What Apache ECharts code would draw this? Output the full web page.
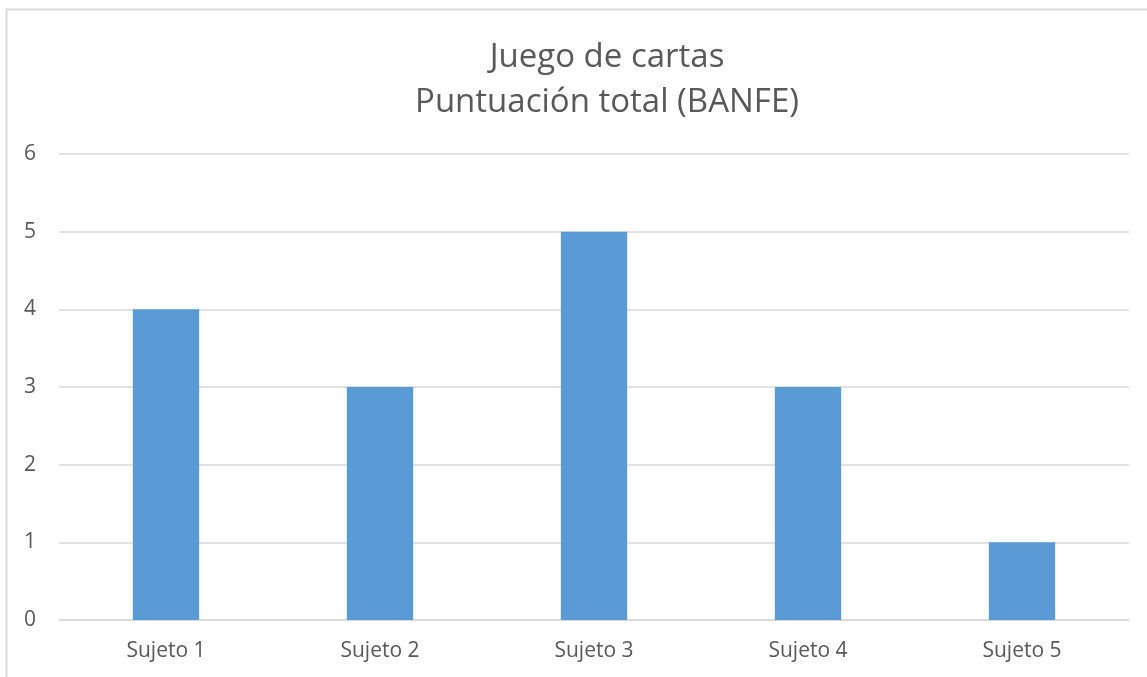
<!DOCTYPE html>
<html>
<head>
<meta charset="utf-8">
<script src="https://cdn.jsdelivr.net/npm/echarts@6/dist/echarts.min.js"></script>
<style>
  html, body { margin: 0; padding: 0; background: #fff; }
  #chart { width: 1147px; height: 677px; }
</style>
</head>
<body>
<div id="chart"></div>
<script>
// datos del grafico
const titleLines = ['Juego de cartas', 'Puntuación total (BANFE)'];
const categories = ['Sujeto 1', 'Sujeto 2', 'Sujeto 3', 'Sujeto 4', 'Sujeto 5'];
const scores = [4, 3, 5, 3, 1];
const yMin = 0, yMax = 6, yStep = 1;

const chart = echarts.init(document.getElementById('chart'));
chart.setOption({
    backgroundColor: '#ffffff',
    animation: false,
    textStyle: { fontFamily: 'Open Sans' },
    graphic: [{
        type: 'rect',
        shape: { x: 6.5, y: 9.5, width: 1200, height: 720 },
        style: { fill: 'none', stroke: '#d9d9d9', lineWidth: 2 },
        silent: true
    }],
    title: {
        text: titleLines.join('\n'),
        left: 602,
        textAlign: 'center',
        top: 30,
        textStyle: {
            color: '#595959',
            fontSize: 33,
            fontWeight: 'normal',
            lineHeight: 45,
            fontFamily: 'Open Sans'
        }
    },
    grid: { left: 59, right: 18, top: 154, bottom: 57 },
    xAxis: {
        type: 'category',
        data: categories,
        axisLine: { lineStyle: { color: '#d9d9d9', width: 1.5 } },
        axisTick: { show: false },
        axisLabel: { color: '#595959', fontSize: 21, margin: 21 }
    },
    yAxis: {
        type: 'value',
        min: yMin,
        max: yMax,
        interval: yStep,
        axisLine: { show: false },
        axisTick: { show: false },
        axisLabel: { color: '#595959', fontSize: 21, margin: 23 },
        splitLine: { lineStyle: { color: '#d9d9d9', width: 1.5 } }
    },
    series: [{
        type: 'bar',
        data: scores,
        barWidth: '31%',
        itemStyle: { color: '#5b9bd5' }
    }]
});
</script>
</body>
</html>
